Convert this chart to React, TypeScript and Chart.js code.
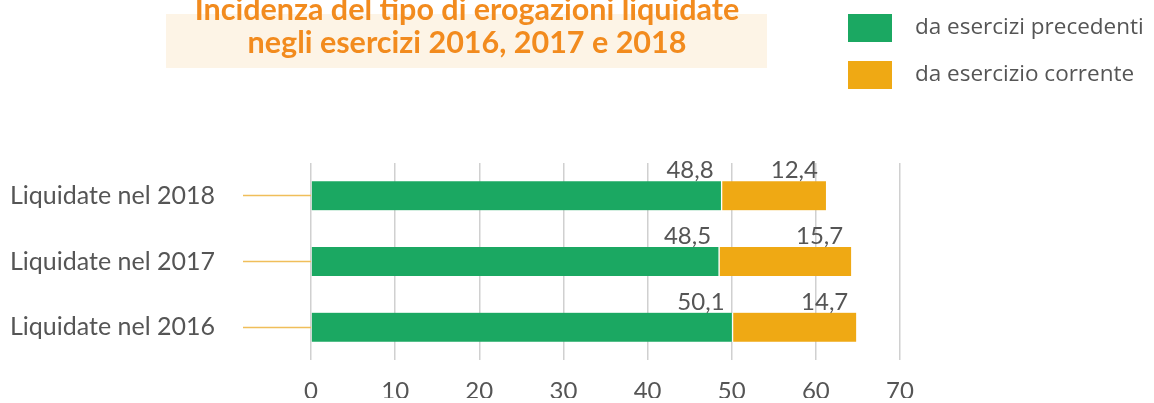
import React, { useEffect, useRef } from "react";
import { Chart, registerables } from "chart.js";

Chart.register(...registerables);

const categories = ["Liquidate nel 2018", "Liquidate nel 2017", "Liquidate nel 2016"];
const precedenti = [48.8, 48.5, 50.1];
const corrente = [12.4, 15.7, 14.7];
const seriesNames = ["da esercizi precedenti", "da esercizio corrente"];
const titleLines = ["Incidenza del tipo di erogazioni liquidate", "negli esercizi 2016, 2017 e 2018"];
const xMin = 0;
const xMax = 70;
const xStep = 10;

const GREEN = "#1BA862";
const ORANGE = "#EFA914";
const TEXT = "#555555";
const AXIS_FONT = "Lato";

const decorPlugin = {
  id: "decor",
  beforeDraw(chart: any) {
    const ctx = chart.ctx;
    ctx.save();
    // title box
    ctx.fillStyle = "#FDF4E6";
    ctx.fillRect(166, 14, 601, 54);
    ctx.fillStyle = "#F28B1E";
    ctx.font = "bold 30.5px Lato";
    ctx.textAlign = "center";
    ctx.textBaseline = "alphabetic";
    ctx.fillText(titleLines[0], 467, 20);
    ctx.fillText(titleLines[1], 467, 53);
    // legend
    const colors = [GREEN, ORANGE];
    ctx.font = "22.5px 'Open Sans'";
    ctx.textAlign = "left";
    ctx.textBaseline = "middle";
    seriesNames.forEach((name, i) => {
      const y = 14 + i * 47;
      ctx.fillStyle = colors[i];
      ctx.fillRect(848, y, 44, 28);
      ctx.fillStyle = TEXT;
      ctx.fillText(name, 915, y + 14);
    });
    ctx.restore();
  },
  afterDatasetsDraw(chart: any) {
    const ctx = chart.ctx;
    ctx.save();
    ctx.font = `24px ${AXIS_FONT}`;
    ctx.fillStyle = TEXT;
    ctx.textAlign = "right";
    ctx.textBaseline = "alphabetic";
    chart.data.datasets.forEach((ds: any, di: number) => {
      const meta = chart.getDatasetMeta(di);
      meta.data.forEach((el: any, i: number) => {
        const v = ds.data[i];
        const label = v.toFixed(1).replace(".", ",");
        ctx.fillText(label, el.x - 8, el.y - el.height / 2 - 3);
      });
    });
    ctx.restore();
  },
};

export default function App() {
  const ref = useRef<HTMLCanvasElement | null>(null);
  useEffect(() => {
    document.body.style.margin = "0";
    const canvas = ref.current!;
    const chart = new Chart(canvas, {
      type: "bar",
      data: {
        labels: categories,
        datasets: [
          {
            label: seriesNames[0],
            data: precedenti,
            backgroundColor: GREEN,
            borderColor: "#ffffff",
            borderWidth: { right: 1 } as any,
            borderSkipped: false,
            barThickness: 29,
          },
          {
            label: seriesNames[1],
            data: corrente,
            backgroundColor: ORANGE,
            borderColor: "#ffffff",
            borderWidth: { left: 1 } as any,
            borderSkipped: false,
            barThickness: 29,
          },
        ],
      },
      options: {
        indexAxis: "y",
        responsive: false,
        animation: false,
        layout: { padding: { top: 163, right: 254, left: 0, bottom: 0 } },
        plugins: {
          legend: { display: false },
          title: { display: false },
          tooltip: { enabled: false },
        },
        scales: {
          x: {
            stacked: true,
            min: xMin,
            max: xMax,
            ticks: {
              stepSize: xStep,
              color: TEXT,
              font: { family: AXIS_FONT, size: 24 },
              padding: 17,
            },
            grid: { color: "#D0D0D0", lineWidth: 1.5, drawTicks: false },
            border: { display: false },
            afterFit(scale: any) {
              scale.height = 38;
            },
          },
          y: {
            stacked: true,
            ticks: {
              color: TEXT,
              font: { family: AXIS_FONT, size: 25 },
              padding: 28,
            },
            grid: {
              drawOnChartArea: false,
              offset: false,
              tickLength: 68,
              tickColor: "#F0BE5A",
              tickWidth: 1.5,
            },
            border: { display: false },
            afterFit(scale: any) {
              scale.width = 311;
            },
          },
        },
      },
      plugins: [decorPlugin],
    });
    return () => chart.destroy();
  }, []);
  return <canvas ref={ref} width={1154} height={403} style={{ display: "block" }} />;
}
